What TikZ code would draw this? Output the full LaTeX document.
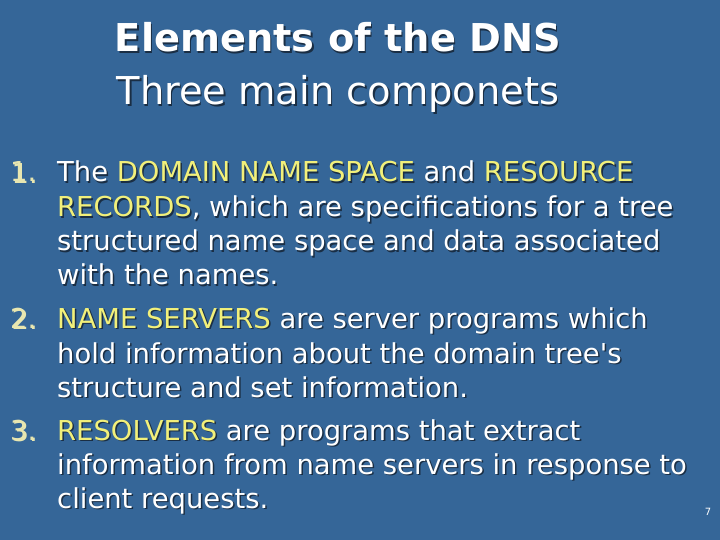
\documentclass[tikz,border=0pt]{standalone}
\usepackage{fontspec}
\setmainfont{DejaVu Sans}
\definecolor{bg}{HTML}{356698}
\definecolor{hl}{HTML}{F2F07A}
\definecolor{num}{HTML}{E8E6B0}
\definecolor{shd}{HTML}{1A2E44}
\newcommand\yl[1]{\textcolor{hl}{#1}}
\newcommand\mytxt[4]{%
  \node[txt,text=shd,anchor=base west] at (#2+1.5,#3+1.5) {\let\yl\relax#4};
  \node[txt,anchor=base west] (#1) at (#2,#3) {#4};}
\begin{document}
\begin{tikzpicture}[x=1bp,y=-1bp,
  txt/.style={inner sep=0pt,text=white,font=\fontsize{27.5}{30}\selectfont},
  ttl/.style={inner sep=0pt,text=white,font=\fontsize{38.5}{42}\selectfont}]
\fill[bg] (0,0) rectangle (720,540);
\useasboundingbox (0,0) rectangle (720,540);
\node[ttl,text=shd,font=\fontsize{38.5}{42}\selectfont\bfseries,anchor=base] at (339.5,53.5) {Elements of the DNS};
\node[ttl,font=\fontsize{38.5}{42}\selectfont\bfseries,anchor=base] (t1) at (338,52) {Elements of the DNS};
\node[ttl,text=shd,anchor=base] at (339.5,106.5) {Three main componets};
\node[ttl,anchor=base] (t2) at (338,105) {Three main componets};
\mytxt{n1}{10}{182}{\textcolor{num}{1.}}
\mytxt{n2}{10}{328}{\textcolor{num}{2.}}
\mytxt{n3}{10}{440}{\textcolor{num}{3.}}
\mytxt{a1}{57}{182}{The \yl{DOMAIN NAME SPACE} and \yl{RESOURCE}}
\mytxt{a2}{57}{217}{\yl{RECORDS}, which are specifications for a tree}
\mytxt{a3}{57}{251}{structured name space and data associated}
\mytxt{a4}{57}{285}{with the names.}
\mytxt{b1}{57}{328}{\yl{NAME SERVERS} are server programs which}
\mytxt{b2}{57}{363}{hold information about the domain tree\textquotesingle s}
\mytxt{b3}{57}{397}{structure and set information.}
\mytxt{c1}{57}{440}{\yl{RESOLVERS} are programs that extract}
\mytxt{c2}{57}{474}{information from name servers in response to}
\mytxt{c3}{57}{508}{client requests.}
\node[inner sep=0pt,text=white,font=\fontsize{10}{12}\selectfont,anchor=base] (pg) at (708,515) {7};
\end{tikzpicture}
\end{document}
